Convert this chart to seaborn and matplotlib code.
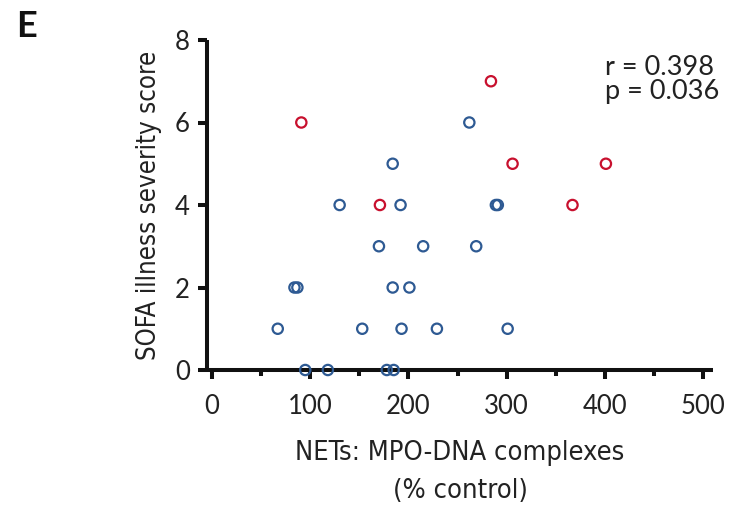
import numpy as np
import pandas as pd
import matplotlib
matplotlib.use("Agg")
import matplotlib.pyplot as plt
from matplotlib.ticker import MultipleLocator
import seaborn as sns

# data
blue_x = [67, 84, 87, 95, 118, 130, 153, 170, 178, 185, 184, 184, 192, 193,
          201, 215, 229, 262, 269, 289, 291, 301]
blue_y = [1, 2, 2, 0, 0, 4, 1, 3, 0, 0, 5, 2, 4, 1,
          2, 3, 1, 6, 3, 4, 4, 1]
red_x = [91, 171, 284, 306, 367, 401]
red_y = [6, 4, 7, 5, 4, 5]

x_ticks = [0, 100, 200, 300, 400, 500]
y_ticks = [0, 2, 4, 6, 8]
stats_text = "r = 0.398\np = 0.036"

BLUE = "#2E5A93"
RED = "#C8102E"

df = pd.DataFrame({
    "x": blue_x + red_x,
    "y": blue_y + red_y,
    "grp": ["blue"] * len(blue_x) + ["red"] * len(red_x),
})

sns.set_style("ticks")
plt.rcParams["font.family"] = ["Lato", "DejaVu Sans"]

fig = plt.figure(figsize=(7.3, 5.09), dpi=100)
ax = fig.add_axes([207 / 730, 1 - 370 / 509, (713 - 207) / 730, (370 - 40) / 509])

for grp, col in [("blue", BLUE), ("red", RED)]:
    sub = df[df["grp"] == grp]
    sns.scatterplot(data=sub, x="x", y="y", ax=ax, color=col, s=55,
                    marker="o", linewidth=1.6, clip_on=False, zorder=3)
    coll = ax.collections[-1]
    coll.set_facecolor("none")
    coll.set_edgecolor(col)

ax.set_xlim(-5, 510)
ax.set_ylim(0, 8)
ax.set_xticks(x_ticks)
ax.set_yticks(y_ticks)
ax.xaxis.set_minor_locator(MultipleLocator(50))

sns.despine(ax=ax)
for s in ["left", "bottom"]:
    ax.spines[s].set_linewidth(2.9)
    ax.spines[s].set_color("#111111")
    ax.spines[s].set_capstyle("butt")
ax.spines["left"].set_bounds(0, 8)

ax.tick_params(axis="both", which="major", direction="out", length=6.5,
               width=2.9, color="#111111", labelsize=18.5, labelcolor="#222222")
ax.tick_params(axis="x", which="major", pad=11)
ax.tick_params(axis="y", which="major", pad=6)
ax.tick_params(axis="x", which="minor", direction="out", length=4,
               width=2.9, color="#111111")

label_font = ["DejaVu Sans"]
ax.set_xlabel("NETs: MPO-DNA complexes\n(% control)", fontsize=19.5,
              family=label_font, fontstretch="condensed", labelpad=15,
              linespacing=1.6, color="#222222")
ax.set_ylabel("SOFA illness severity score", fontsize=18.5,
              family=label_font, fontstretch="condensed", labelpad=9,
              color="#222222")

ax.text(0.787, 0.955, stats_text, transform=ax.transAxes, fontsize=19.5,
        va="top", ha="left", linespacing=0.95, color="#222222")

fig.text(0.022, 0.98, "E", fontsize=26, fontweight="bold", va="top", ha="left",
         color="#111111")

fig.savefig("out.png", dpi=100)
